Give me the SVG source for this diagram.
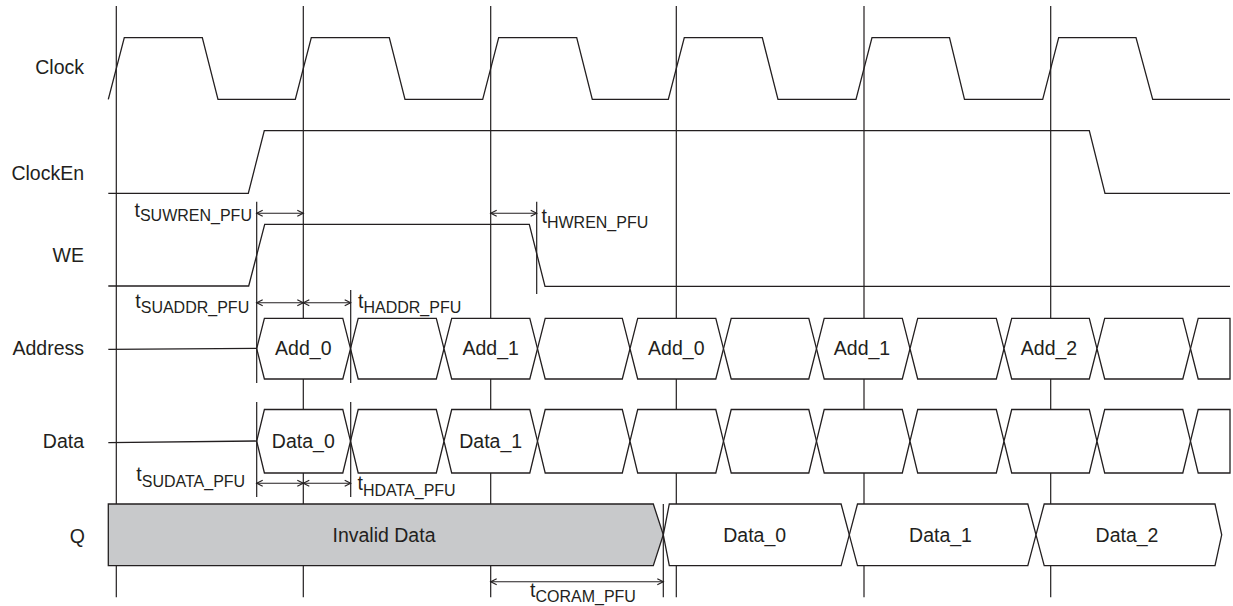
<svg xmlns="http://www.w3.org/2000/svg" width="1233" height="606" viewBox="0 0 1233 606">
<defs>
<style>
.w{fill:none;stroke:#231f20;stroke-width:1.3;stroke-linejoin:miter}
.g{fill:none;stroke:#231f20;stroke-width:1.2}
.hx{fill:#fff;stroke:#231f20;stroke-width:1.3}
.gy{fill:#c8c9cb;stroke:#231f20;stroke-width:1.3}
.a{fill:none;stroke:#231f20;stroke-width:1.1;marker-start:url(#ah);marker-end:url(#ah)}
.lb{font-family:"Liberation Sans",Arial,sans-serif;font-size:19.5px;fill:#231f20}
.sb{font-size:16px}
</style>
<marker id="ah" viewBox="-8 -5 10 10" refX="0" refY="0" markerWidth="10" markerHeight="10" markerUnits="userSpaceOnUse" orient="auto-start-reverse" overflow="visible">
<path d="M-6,-3 L0,0 L-6,3" fill="none" stroke="#231f20" stroke-width="1.1"/>
</marker>
</defs>
<rect width="1233" height="606" fill="#fff"/>

<g id="clock-edges">
<path class="g" d="M116.3,6V597.3M303.3,6V597.3M490.7,6V597.3M676.3,6V597.3M864,6V597.3M1050.7,6V597.3"/>
</g>

<g id="clock">
<text class="lb" x="84" y="74" text-anchor="end">Clock</text>
<path class="w" d="M108.3,99.3 L124.3,37.7 L202.3,37.7 L218,99.3 L295.3,99.3 L311.3,37.7 L389.3,37.7 L405,99.3 L482.7,99.3 L498.7,37.7 L576.7,37.7 L592.3,99.3 L668.3,99.3 L684.3,37.7 L762.3,37.7 L778,99.3 L856,99.3 L872,37.7 L949.5,37.7 L964.5,99.3 L1042.7,99.3 L1058.7,37.7 L1136,37.7 L1152.7,99.3 L1230,99.3"/>
</g>

<g id="clocken">
<text class="lb" x="84" y="180" text-anchor="end">ClockEn</text>
<path class="w" d="M108.3,193.3 L248.3,193.3 L264.3,130.7 L1089.3,130.7 L1105,193.3 L1230,193.3"/>
</g>

<g id="we">
<text class="lb" x="84" y="261.7" text-anchor="end">WE</text>
<path class="w" d="M108.3,286 L248.7,286 L264.7,224.3 L529.3,224.3 L545,286.3 L1230,286.3"/>
</g>

<g id="address">
<text class="lb" x="84" y="355" text-anchor="end">Address</text>
<path class="w" d="M108.3,349.3 L256.7,348.3"/>
<path class="hx" d="M256.7,348.7 L264.4,318.3 L342.8,318.3 L350.5,348.7 L342.8,379 L264.4,379 Z"/>
<path class="hx" d="M350.5,348.7 L358.2,318.3 L436.3,318.3 L444,348.7 L436.3,379 L358.2,379 Z"/>
<path class="hx" d="M444,348.7 L451.7,318.3 L529.8,318.3 L537.5,348.7 L529.8,379 L451.7,379 Z"/>
<path class="hx" d="M537.5,348.7 L545.2,318.3 L622.3,318.3 L630,348.7 L622.3,379 L545.2,379 Z"/>
<path class="hx" d="M630,348.7 L637.7,318.3 L715.8,318.3 L723.5,348.7 L715.8,379 L637.7,379 Z"/>
<path class="hx" d="M723.5,348.7 L731.2,318.3 L808.8,318.3 L816.5,348.7 L808.8,379 L731.2,379 Z"/>
<path class="hx" d="M816.5,348.7 L824.2,318.3 L902.3,318.3 L910,348.7 L902.3,379 L824.2,379 Z"/>
<path class="hx" d="M910,348.7 L917.7,318.3 L996.3,318.3 L1004,348.7 L996.3,379 L917.7,379 Z"/>
<path class="hx" d="M1004,348.7 L1011.7,318.3 L1089.3,318.3 L1097,348.7 L1089.3,379 L1011.7,379 Z"/>
<path class="hx" d="M1097,348.7 L1104.7,318.3 L1182.8,318.3 L1190.5,348.7 L1182.8,379 L1104.7,379 Z"/>
<path class="hx" d="M1190.5,348.7 L1198.2,318.3 L1230,318.3 L1230,379 L1198.2,379 Z"/>
<g class="lb" text-anchor="middle">
<text x="303.3" y="355">Add_0</text>
<text x="490.7" y="355">Add_1</text>
<text x="676.3" y="355">Add_0</text>
<text x="862" y="355">Add_1</text>
<text x="1049" y="355">Add_2</text>
</g>
</g>

<g id="data">
<text class="lb" x="84" y="448.3" text-anchor="end">Data</text>
<path class="w" d="M108.3,442.7 L256.7,441"/>
<path class="hx" d="M256.7,441.2 L264.4,409.5 L342.8,409.5 L350.5,441.2 L342.8,473 L264.4,473 Z"/>
<path class="hx" d="M350.5,441.2 L358.2,409.5 L436.3,409.5 L444,441.2 L436.3,473 L358.2,473 Z"/>
<path class="hx" d="M444,441.2 L451.7,409.5 L529.8,409.5 L537.5,441.2 L529.8,473 L451.7,473 Z"/>
<path class="hx" d="M537.5,441.2 L545.2,409.5 L622.3,409.5 L630,441.2 L622.3,473 L545.2,473 Z"/>
<path class="hx" d="M630,441.2 L637.7,409.5 L715.8,409.5 L723.5,441.2 L715.8,473 L637.7,473 Z"/>
<path class="hx" d="M723.5,441.2 L731.2,409.5 L808.8,409.5 L816.5,441.2 L808.8,473 L731.2,473 Z"/>
<path class="hx" d="M816.5,441.2 L824.2,409.5 L902.3,409.5 L910,441.2 L902.3,473 L824.2,473 Z"/>
<path class="hx" d="M910,441.2 L917.7,409.5 L996.3,409.5 L1004,441.2 L996.3,473 L917.7,473 Z"/>
<path class="hx" d="M1004,441.2 L1011.7,409.5 L1089.3,409.5 L1097,441.2 L1089.3,473 L1011.7,473 Z"/>
<path class="hx" d="M1097,441.2 L1104.7,409.5 L1182.8,409.5 L1190.5,441.2 L1182.8,473 L1104.7,473 Z"/>
<path class="hx" d="M1190.5,441.2 L1198.2,409.5 L1230,409.5 L1230,473 L1198.2,473 Z"/>
<g class="lb" text-anchor="middle">
<text x="303.3" y="447.8">Data_0</text>
<text x="490.7" y="447.8">Data_1</text>
</g>
</g>

<g id="q">
<text class="lb" x="85" y="542.8" text-anchor="end">Q</text>
<path class="gy" d="M108.3,504 L653.3,504 L663.3,534.8 L653.3,565.7 L108.3,565.7 Z"/>
<path class="hx" d="M663.3,534.8 L669.3,504 L841.1,504 L849.3,534.8 L841.1,565.7 L669.3,565.7 Z"/>
<path class="hx" d="M849.3,534.8 L857.5,504 L1027.8,504 L1036,534.8 L1027.8,565.7 L857.5,565.7 Z"/>
<path class="hx" d="M1036,534.8 L1044.2,504 L1215,504 L1221.7,534.8 L1215,565.7 L1044.2,565.7 Z"/>
<g class="lb" text-anchor="middle">
<text x="384" y="542.3">Invalid Data</text>
<text x="754.7" y="542.3">Data_0</text>
<text x="940.5" y="542.3">Data_1</text>
<text x="1127" y="542.3">Data_2</text>
</g>
</g>

<g id="connectors">
<path class="g" d="M256.7,201.7V383M256.7,402V497M350.7,290V383M350.7,402V497M536.7,201.7V294M663.3,504V597.3"/>
<path class="a" d="M256.7,213.3H303.3"/>
<path class="a" d="M490.7,213.3H536.7"/>
<path class="a" d="M256.7,302.7H303.3"/>
<path class="a" d="M303.3,302.7H350.7"/>
<path class="a" d="M256.7,483.3H303.3"/>
<path class="a" d="M303.3,483.3H350.7"/>
<path class="a" d="M490.7,581.7H663.3"/>
</g>

<g id="timing-labels" class="lb">
<text x="134.5" y="216.5">t<tspan class="sb" dy="4.5">SUWREN_PFU</tspan></text>
<text x="541.5" y="222.5">t<tspan class="sb" dy="5.5">HWREN_PFU</tspan></text>
<text x="135.3" y="307.5">t<tspan class="sb" dy="5">SUADDR_PFU</tspan></text>
<text x="358" y="307.5">t<tspan class="sb" dy="5">HADDR_PFU</tspan></text>
<text x="136.3" y="481">t<tspan class="sb" dy="5.5">SUDATA_PFU</tspan></text>
<text x="357.5" y="490">t<tspan class="sb" dy="5.5">HDATA_PFU</tspan></text>
<text x="530" y="596.5">t<tspan class="sb" dy="5">CORAM_PFU</tspan></text>
</g>
</svg>
